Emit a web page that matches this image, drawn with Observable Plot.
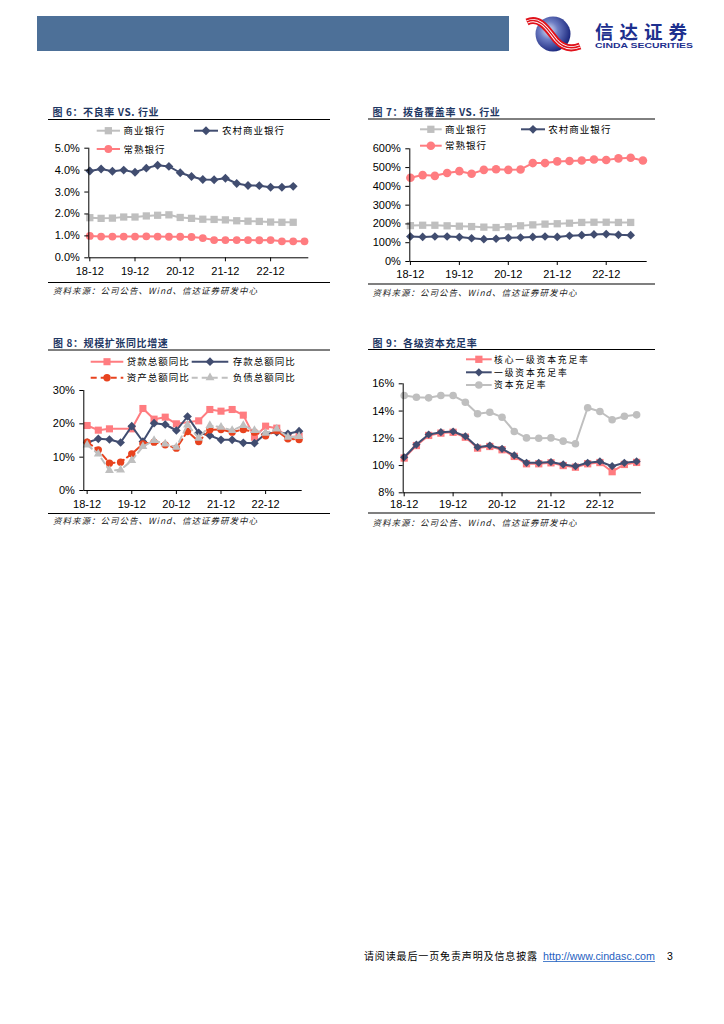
<!DOCTYPE html>
<html><head><meta charset="utf-8">
<script src="https://cdn.jsdelivr.net/npm/d3@7"></script>
<script src="https://cdn.jsdelivr.net/npm/@observablehq/plot@0.6"></script>
<style>
html,body{margin:0;padding:0;background:#fff;}
body{width:724px;height:1024px;position:relative;overflow:hidden;}
.chart{position:absolute;}
#ov{position:absolute;left:0;top:0;z-index:2;pointer-events:none;}
</style></head><body>
<script>
// ---------- data ----------
const quarters = ["18-12","19-03","19-06","19-09","19-12","20-03","20-06","20-09","20-12","21-03","21-06","21-09","21-12","22-03","22-06","22-09","22-12","23-03","23-06","23-09"];
const xTickIdx = [0,4,8,12,16];

// 图6 不良率 (%)
const nplCommercial = [1.83,1.80,1.81,1.86,1.86,1.91,1.94,1.96,1.84,1.80,1.76,1.75,1.73,1.69,1.67,1.66,1.63,1.62,1.62];
const nplRural      = [3.96,4.05,3.95,4.00,3.90,4.09,4.22,4.17,3.88,3.71,3.57,3.56,3.63,3.39,3.30,3.29,3.22,3.22,3.26];
const nplChangshu   = [1.00,0.97,0.97,0.97,0.97,0.98,0.97,0.96,0.96,0.95,0.90,0.81,0.81,0.81,0.81,0.80,0.81,0.75,0.75,0.75];

// 图7 拨备覆盖率 (%)
const covCommercial = [191,193,193,190,188,186,183,181,185,190,195,199,201,204,208,209,209,208,208];
const covRural      = [133,131,133,133,130,124,119,121,126,128,131,133,131,137,140,144,146,142,140];
const covChangshu   = [446,460,456,471,481,467,488,491,488,490,524,524,533,535,538,543,540,549,552,538];

// 图8 规模扩张同比增速 (%)
const loanYoY    = [19.5,18.1,18.5,null,18.5,24.6,21.4,22.0,20.0,null,20.9,24.3,23.8,24.3,22.6,16.0,19.3,18.7,16.0,16.3];
const depositYoY = [14.4,15.5,15.3,14.4,19.3,14.7,20.2,19.8,18.0,22.2,17.3,16.5,15.2,15.2,14.3,14.2,17.0,17.5,17.0,17.8];
const assetYoY   = [14.5,12.2,8.2,8.5,11.0,14.0,14.5,13.7,12.7,17.7,14.7,18.2,18.3,17.5,18.3,17.5,16.4,17.9,15.5,15.3];
const liabYoY    = [13.7,11.0,6.0,6.2,9.0,13.2,15.0,14.0,13.0,19.7,15.7,19.5,19.0,18.0,19.5,18.0,17.2,18.5,16.0,16.2];

// 图9 各级资本充足率 (%)
const coreTier1 = [10.55,11.47,12.21,12.38,12.44,12.08,11.28,11.40,11.16,10.67,10.13,10.13,10.20,10.00,9.88,10.13,10.22,9.55,10.08,10.23];
const tier1     = [10.61,11.54,12.28,12.45,12.50,12.15,11.35,11.47,11.23,10.74,10.20,10.20,10.26,10.08,9.95,10.20,10.30,9.95,10.20,10.30];
const capital   = [15.14,15.01,14.97,15.14,15.14,14.65,13.80,13.91,13.55,12.50,12.03,12.00,12.03,11.79,11.60,14.24,13.97,13.36,13.62,13.72];

// labels
const titles = ["图 6：不良率 VS. 行业","图 7：拨备覆盖率 VS. 行业","图 8：规模扩张同比增速","图 9：各级资本充足率"];
const sourceText = "资料来源：公司公告、Wind、信达证券研发中心";
const legend6 = ["商业银行","农村商业银行","常熟银行"];
const legend8 = ["贷款总额同比","存款总额同比","资产总额同比","负债总额同比"];
const legend9 = ["核心一级资本充足率","一级资本充足率","资本充足率"];

// ---------- styles ----------
const GREY = "#BFBFBF", NAVY = "#414D70", PINK = "#FF7C80", RED = "#E8431F";
const CJK = "'Noto Sans CJK SC', sans-serif";

function chart(o) {
  const marks = [];
  for (const s of o.series) {
    const data = s.values.map((v, i) => ({i, v})).filter(d => d.v != null);
    marks.push(Plot.line(data, {x: "i", y: "v", stroke: s.color, strokeWidth: 2, strokeDasharray: s.dash || null}));
    marks.push(Plot.dot(data, {x: "i", y: "v", symbol: s.symbol, r: s.r, fill: s.color, stroke: "none"}));
  }
  marks.push(Plot.ruleY([o.yDomain[0]], {stroke: "#000", strokeWidth: 1}));
  marks.push(Plot.ruleX([o.xDomain[0]], {stroke: "#000", strokeWidth: 1}));
  marks.push(Plot.axisY({ticks: o.yTicks, tickFormat: o.yFmt, tickSize: 4, tickPadding: 5, label: null, stroke: "#000"}));
  marks.push(Plot.axisX({ticks: xTickIdx, tickFormat: i => quarters[i], tickSize: 4, tickPadding: o.xPad, label: null, stroke: "#000"}));
  const svg = Plot.plot({
    width: o.width, height: o.height,
    marginLeft: o.mL, marginRight: o.mR, marginTop: o.mT, marginBottom: o.mB,
    x: {domain: o.xDomain, label: null},
    y: {domain: o.yDomain, label: null},
    style: {fontFamily: "'Liberation Sans', Arial, sans-serif", fontSize: "11px", color: "#000", background: "transparent", overflow: "visible"},
    marks
  });
  svg.classList.add("chart");
  svg.style.left = o.left + "px";
  svg.style.top = o.top + "px";
  document.body.appendChild(svg);
}

chart({left: 40, top: 140, width: 290, height: 142, mL: 48.3, mR: 21.7, mT: 7.7, mB: 24.7,
  xDomain: [-0.09, 19.38], yDomain: [0, 5], yTicks: [0,1,2,3,4,5], yFmt: d => d.toFixed(1) + "%", xPad: 5,
  series: [
    {values: nplCommercial, color: GREY, symbol: "square", r: 4.1},
    {values: nplRural, color: NAVY, symbol: "diamond2", r: 4.0},
    {values: nplChangshu, color: PINK, symbol: "circle", r: 3.9}
  ]});

chart({left: 360, top: 140, width: 295, height: 142, mL: 49.3, mR: 8.3, mT: 8.3, mB: 21,
  xDomain: [-0.05, 19.35], yDomain: [0, 600], yTicks: [0,100,200,300,400,500,600], yFmt: d => d + "%", xPad: 4.5,
  series: [
    {values: covCommercial, color: GREY, symbol: "square", r: 4.1},
    {values: covRural, color: NAVY, symbol: "diamond2", r: 3.9},
    {values: covChangshu, color: PINK, symbol: "circle", r: 4.3}
  ]});

chart({left: 40, top: 385, width: 290, height: 130, mL: 43.3, mR: 28.3, mT: 5, mB: 25,
  xDomain: [-0.3, 19.28], yDomain: [0, 30], yTicks: [0,10,20,30], yFmt: d => d + "%", xPad: 5.3,
  series: [
    {values: loanYoY, color: PINK, symbol: "square", r: 4.0},
    {values: depositYoY, color: NAVY, symbol: "diamond2", r: 3.9},
    {values: assetYoY, color: RED, symbol: "circle", r: 3.7, dash: "6,4"},
    {values: liabYoY, color: GREY, symbol: "triangle", r: 3.3, dash: "6,4"}
  ]});

chart({left: 360, top: 378, width: 295, height: 137, mL: 42.7, mR: 14, mT: 5.3, mB: 22.7,
  xDomain: [-0.08, 19.4], yDomain: [8, 16], yTicks: [8,10,12,14,16], yFmt: d => d + "%", xPad: 3.7,
  series: [
    {values: coreTier1, color: PINK, symbol: "square", r: 4.1},
    {values: tier1, color: NAVY, symbol: "diamond2", r: 3.7},
    {values: capital, color: GREY, symbol: "circle", r: 3.8}
  ]});

// ---------- overlay: header, titles, legends, sources, footer ----------
const ov = d3.select("body").append("svg").attr("id", "ov").attr("width", 724).attr("height", 1024);
const defs = ov.append("defs");
const rg = defs.append("radialGradient").attr("id", "ball").attr("cx", "38%").attr("cy", "40%").attr("r", "65%");
rg.append("stop").attr("offset", "0%").attr("stop-color", "#E4E8F6");
rg.append("stop").attr("offset", "40%").attr("stop-color", "#6E7EC4");
rg.append("stop").attr("offset", "100%").attr("stop-color", "#17237A");

ov.append("rect").attr("x", 37).attr("y", 16).attr("width", 472).attr("height", 35).attr("fill", "#4D7098");
// logo
ov.append("circle").attr("cx", 553).attr("cy", 34).attr("r", 17.5).attr("fill", "url(#ball)");
const swoosh = "M527,22 C540,16 548,30 556,40 C562,47 570,50 580,46";
ov.append("path").attr("d", swoosh).attr("fill", "none").attr("stroke", "#E0121B").attr("stroke-width", 7);
ov.append("path").attr("d", swoosh).attr("fill", "none").attr("stroke", "#fff").attr("stroke-width", 3.2);
ov.append("path").attr("d", swoosh).attr("fill", "none").attr("stroke", "#E0121B").attr("stroke-width", 1.4);
ov.append("text").attr("x", 595).attr("y", 38.5).attr("font-family", CJK).attr("font-weight", 700).attr("font-size", 18.5)
  .attr("letter-spacing", 6).attr("fill", "#1D2F8E").text("信达证券");
ov.append("text").attr("x", 595).attr("y", 47.5).attr("font-family", "'Liberation Sans', Arial, sans-serif").attr("font-weight", 700).attr("font-size", 7)
  .attr("textLength", 98).attr("lengthAdjust", "spacingAndGlyphs").attr("fill", "#1D2F8E").text("CINDA SECURITIES");

function txt(x, cy, s, size, opts = {}) {
  const t = ov.append("text").attr("x", x).attr("y", cy + size * 0.38).attr("font-family", CJK)
    .attr("font-size", size).attr("fill", opts.fill || "#000").text(s);
  if (opts.bold) t.attr("font-weight", 700);
  if (opts.italic) t.attr("font-style", "italic");
  if (opts.ls != null) t.attr("letter-spacing", opts.ls);
  if (opts.len) t.attr("textLength", opts.len).attr("lengthAdjust", "spacing");
  return t;
}
function hrule(x1, x2, y, w = 1) {
  ov.append("line").attr("x1", x1).attr("x2", x2).attr("y1", y).attr("y2", y).attr("stroke", "#000").attr("stroke-width", w);
}
function legendItem(x1, x2, cy, color, symbol, r, dash, label, tx, fs = 9.5) {
  ov.append("line").attr("x1", x1).attr("x2", x2).attr("y1", cy).attr("y2", cy)
    .attr("stroke", color).attr("stroke-width", 2).attr("stroke-dasharray", dash || null);
  const sym = {square: d3.symbolSquare, circle: d3.symbolCircle, diamond2: d3.symbolDiamond2, triangle: d3.symbolTriangle}[symbol];
  ov.append("path").attr("d", d3.symbol(sym, Math.PI * r * r)()).attr("transform", `translate(${(x1 + x2) / 2},${cy})`).attr("fill", color);
  txt(tx, cy, label, fs, {len: label.length * 10.6 - 1.5});
}

// titles
const TCOL = "#1F3864";
txt(52.5, 112, titles[0], 10, {bold: true, fill: TCOL, ls: 0.6});
txt(372.5, 112, titles[1], 10, {bold: true, fill: TCOL, ls: 0.6});
txt(53, 343.5, titles[2], 10, {bold: true, fill: TCOL, ls: 0.6});
txt(372.5, 343.3, titles[3], 10, {bold: true, fill: TCOL, ls: 0.6});
hrule(48, 330, 119.5); hrule(368, 655, 119);
hrule(48, 330, 350); hrule(368, 655, 349.5);

// legends
legendItem(96.7, 120, 130.7, GREY, "square", 4.1, null, legend6[0], 123.5);
legendItem(194, 218, 130.7, NAVY, "diamond2", 4.0, null, legend6[1], 222);
legendItem(96.7, 120, 149, PINK, "circle", 3.9, null, legend6[2], 123.5);

legendItem(420, 441.7, 129.3, GREY, "square", 4.1, null, legend6[0], 445);
legendItem(521, 545, 129.3, NAVY, "diamond2", 3.9, null, legend6[1], 548.3);
legendItem(420, 441.7, 145.7, PINK, "circle", 4.3, null, legend6[2], 445);

legendItem(90.7, 123.3, 361.7, PINK, "square", 4.0, null, legend8[0], 126.7);
legendItem(191.7, 228.3, 361.7, NAVY, "diamond2", 3.9, null, legend8[1], 232.7);
legendItem(90.7, 123.3, 377.7, RED, "circle", 3.7, "6,4", legend8[2], 126.7);
legendItem(191.7, 228.3, 377.7, GREY, "triangle", 3.3, "6,4", legend8[3], 232.7);

legendItem(466, 491.7, 359.3, PINK, "square", 4.1, null, legend9[0], 494, 8.8);
legendItem(466, 491.7, 372.3, NAVY, "diamond2", 3.7, null, legend9[1], 494, 8.8);
legendItem(466, 491.7, 385, GREY, "circle", 3.8, null, legend9[2], 494, 8.8);

// sources
hrule(48, 330, 282.5, 1.2); hrule(368, 655, 284, 1.2);
hrule(48, 330, 513.5, 1.2); hrule(368, 655, 513, 1.2);
const SRC = {italic: true, fill: "#222", len: 204};
txt(53, 290.7, sourceText, 8.5, SRC);
txt(372.5, 292.3, sourceText, 8.5, SRC);
txt(53, 520.7, sourceText, 8.5, SRC);
txt(372.5, 522.3, sourceText, 8.5, SRC);

// footer
txt(364, 956, "请阅读最后一页免责声明及信息披露", 10, {len: 173});
ov.append("text").attr("x", 543).attr("y", 959.7).attr("font-family", "'Liberation Sans', Arial, sans-serif").attr("font-size", 10.5)
  .attr("fill", "#1F5FBF").attr("textLength", 112).attr("lengthAdjust", "spacingAndGlyphs").text("http://www.cindasc.com");
ov.append("line").attr("x1", 543).attr("x2", 655).attr("y1", 961.5).attr("y2", 961.5).attr("stroke", "#1F5FBF").attr("stroke-width", 0.8);
ov.append("text").attr("x", 667).attr("y", 959.7).attr("font-family", "'Liberation Sans', Arial, sans-serif").attr("font-size", 10.5).attr("fill", "#000").text("3");
</script>
</body></html>
